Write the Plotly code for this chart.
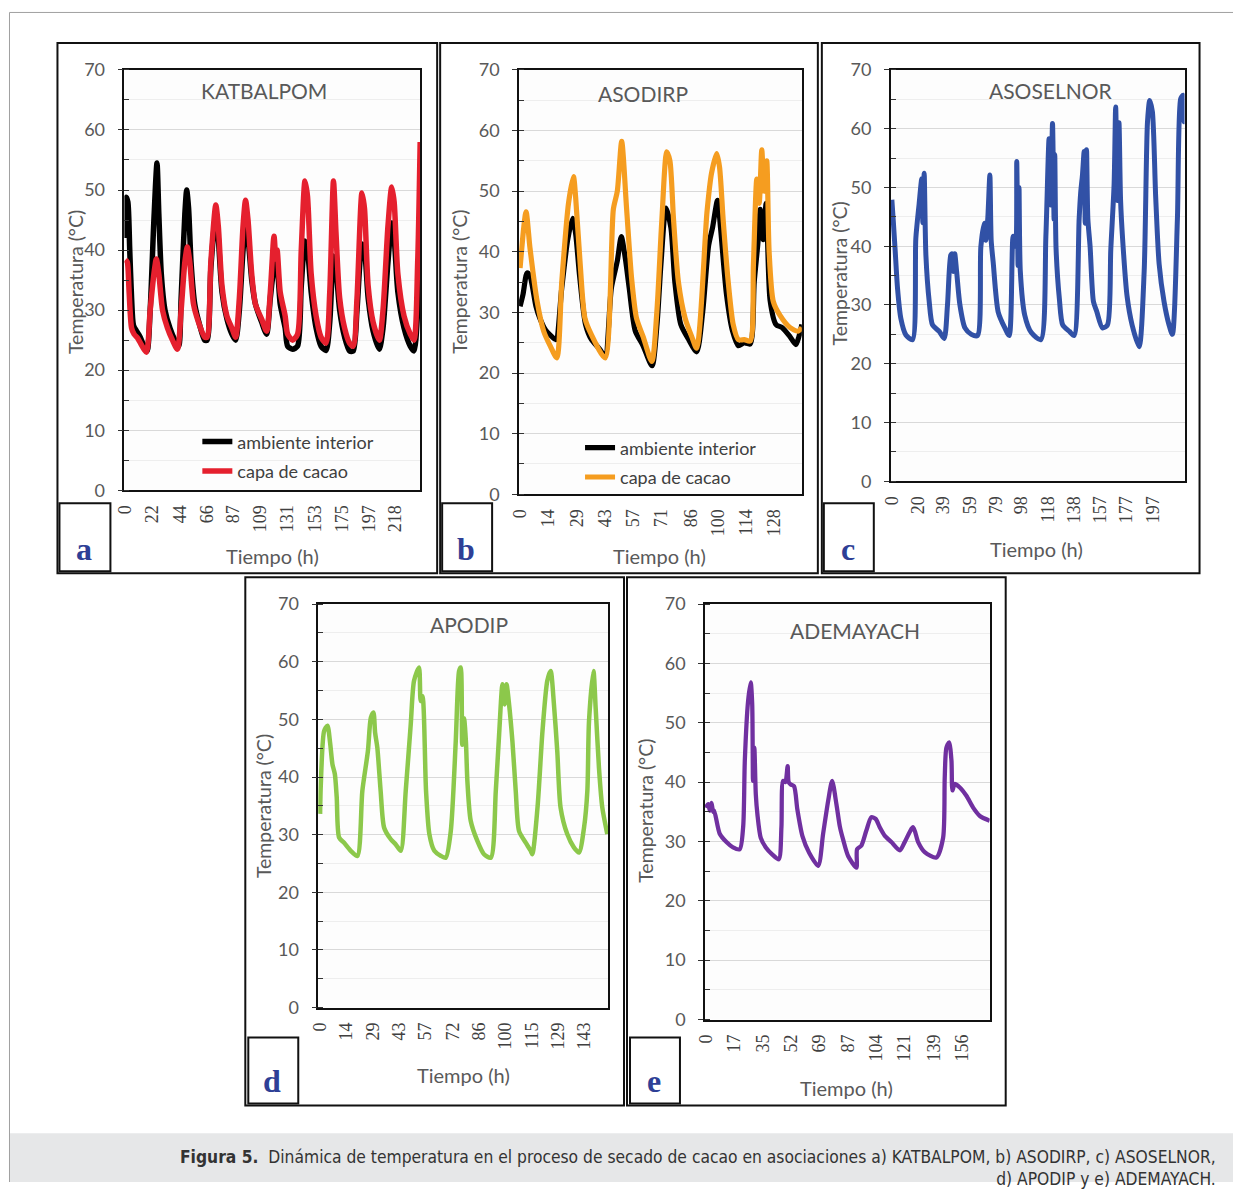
import plotly.graph_objects as go

# ---------------- data ----------------
# a) KATBALPOM
a_t_ambiente = [0, 0.7, 2, 3.5, 5, 6.5, 9, 12, 15, 17.5,
                20, 23, 25.5, 27, 29, 32, 36, 40, 43,
                45, 48, 49.5, 51, 53, 56, 60, 64, 66,
                69, 73, 75, 78, 82, 86, 89,
                92, 95, 97, 99, 102, 105, 110, 114,
                117, 120, 122, 125, 129, 131, 135, 139,
                142, 145, 147, 150, 154, 158, 162,
                165, 168, 170, 173, 177, 181, 184,
                187, 191, 193, 196, 200, 205,
                208, 212, 215, 217, 220, 225, 230, 233,
                236, 238]
a_ambiente = [42, 48.8, 48, 40, 32, 27.5, 26.5, 25.5, 24, 23.2,
              30, 45, 54.5, 46, 36, 30, 27, 25, 24,
              32, 46, 50, 47, 38, 31, 27.5, 25, 25,
              37, 46, 42, 33, 28.5, 26, 25,
              30, 40, 44, 42, 35, 31, 28, 26,
              32, 37, 38, 31, 27, 24, 23.5, 24,
              34, 41.5, 40, 33, 27, 24, 23.3,
              28, 39, 37, 30, 25.5, 23.2, 23.2,
              30, 41, 40, 32, 26.5, 23.5,
              27, 38, 44.5, 42, 33, 27, 24, 23.2,
              30, 42]
a_t_cacao = [0, 1.5, 3, 5, 7, 10, 13, 17,
             20, 23, 25, 27, 30, 34, 38, 42,
             45, 48, 50, 52, 55, 59, 64, 66,
             69, 73, 75, 78, 82, 86, 89,
             92, 95, 97, 99, 102, 105, 110, 114,
             117, 120, 121.5, 122.5, 125, 129, 131, 135, 139,
             142, 145, 147, 150, 154, 158, 162,
             165, 168, 170, 173, 177, 181, 184,
             187, 191, 193, 196, 200, 205,
             208, 212, 215, 217, 220, 225, 230, 233,
             236, 238]
a_cacao = [38.4, 38, 33, 27, 26, 25.3, 24.2, 23,
           30, 36, 38.5, 36, 30, 27, 25, 23.5,
           30, 38, 40.5, 38, 31, 28, 25.5, 25.5,
           38, 47.5, 44, 34, 29, 27, 25.5,
           32, 44, 48.3, 45, 36, 31, 28.5, 26.5,
           33, 42.3, 38.5, 40, 33, 29, 26, 25, 26,
           40, 51.5, 49, 36, 29, 25.5, 24.5,
           33, 51.5, 43, 32, 27, 24.5, 24,
           32, 49.5, 47, 34, 28, 25,
           30, 44, 50.5, 48, 36, 29, 26, 25,
           38, 58]
a_ticks = [0, 22, 44, 66, 87, 109, 131, 153, 175, 197, 218]

# b) ASODIRP
b_t_ambiente = [0, 1.5, 3.5, 5, 8, 10, 13, 16, 18,
                21, 24, 26.5, 28, 30, 33, 36, 40, 42.8,
                46, 49, 51, 53, 55, 58, 62, 66.5,
                69, 71, 73.5, 76, 78, 81, 85, 89,
                92, 95, 97, 99.5, 101, 104, 107, 110, 113, 116,
                118, 120, 121, 122.5, 124, 126, 129, 132, 136, 139, 140.5, 142]
b_ambiente = [31, 33, 36.5, 36, 31, 29, 27, 26, 25.5,
              34, 42, 45.5, 43, 36, 28, 25.5, 24, 22.8,
              34, 38.5, 42.5, 39, 34, 27, 24.5, 21.2,
              28, 38, 47.2, 44, 35, 28, 25.5, 23.5,
              30, 41, 44, 48.5, 44, 33, 27, 24.5, 25, 24.8,
              35, 42, 47, 42, 48, 32, 28, 27.5, 26, 24.7, 26, 28]
b_t_cacao = [0, 3, 5, 8.6, 11.9, 15.3, 18.5,
             21, 24.4, 26.9, 28, 30.2, 32.7, 36.1, 42.8,
             47, 49, 51.2, 53.7, 56.2, 58.7, 62, 66.4,
             68.9, 71.4, 73.9, 75.5, 77.3, 79.8, 83.2, 86.5, 89,
             94.2, 96.5, 99.1, 100.5, 102.4, 104.9, 107.4, 110, 113, 116,
             117.6, 119.3, 120.5, 121.8, 123, 124.3, 125.5, 127.6, 131, 136, 140, 142]
b_cacao = [37.3, 46.6, 40.6, 31.8, 26.9, 24.4, 22.5,
           35, 48, 52.4, 49, 38.4, 29, 26.2, 22.5,
           47, 50, 58.2, 47, 35.6, 29, 26, 21.9,
           30, 45, 56.5, 55, 45.5, 35, 29, 26, 24.1,
           46.6, 53, 56.2, 54, 45, 35, 28, 25.5, 25.5, 25.3,
           38, 52, 48, 56.8, 50, 55, 40, 31.8, 29.5, 27.5, 26.9, 27.5]
b_ticks = [0, 14, 29, 43, 57, 71, 86, 100, 114, 128]

# c) ASOSELNOR
c_t = [0, 1, 2.5, 4.3, 6.8, 10.6, 15.6,
       18.1, 20.6, 22.6, 23.4, 24.4, 25.7, 28.2, 30.7, 35.8, 39.5,
       42, 44.5, 45.5, 46.5, 47.5, 48.9, 51.4, 55.2, 60, 64.7,
       67.2, 69.7, 71, 72.5, 74, 75, 76.5, 80.3, 85.3, 88.6,
       91.6, 93.6, 94.3, 95.3, 96, 97, 100.3, 105.3, 112.5,
       116.3, 118.7, 120, 121.3, 122.5, 123, 124, 126.5, 129, 134.1, 137.6,
       141.4, 142.6, 143.9, 145.2, 146, 147, 148, 149.7, 152.2, 154.7, 159, 162.8,
       165.3, 167.8, 169, 170.3, 171.5, 172.7, 174.3, 177.6, 181.4, 186.7,
       190.5, 193, 194.7, 196.7, 199.2, 201.8, 205.5, 209.3, 211.8,
       215.6, 218.1, 219.9, 220.6, 221]
c_temp = [47.9, 44.6, 39.3, 32.8, 27.7, 24.9, 24.1,
          41.3, 47.2, 51.5, 44, 52.4, 38.5, 30.6, 26.6, 25.5, 24.3,
          30, 38.5, 38.7, 35.7, 38.7, 35.7, 30, 26.1, 25, 24.8,
          39.9, 43.9, 41, 45, 52.1, 41, 37.3, 28.8, 26.1, 24.8,
          41.7, 40, 54.4, 36.7, 50, 35.7, 28.3, 25.3, 24.1,
          41.7, 58.3, 47, 60.9, 44.6, 55.6, 39.5, 31, 26.6, 25.5, 24.8,
          44.6, 49.2, 52.1, 56.1, 43.9, 56.4, 44.6, 39.9, 30.6, 28.9, 26.1, 26.6,
          39.4, 50.5, 63.7, 47.8, 61, 47.8, 41, 31.5, 26.6, 22.9,
          35.7, 61.1, 64.8, 62.9, 48.4, 37, 30.6, 26.6, 25,
          44.6, 65.1, 65.7, 61.2, 62]
c_ticks = [0, 20, 39, 59, 79, 98, 118, 138, 157, 177, 197]

# d) APODIP
d_t = [0, 0.4, 2.2, 4, 5.4, 6.7, 8, 9, 10.3, 13, 16.6, 20.2,
       22.9, 25.9, 27.5, 28.9, 29.8, 31, 32.8, 34.7, 38.3, 41, 43.7,
       46.4, 49.1, 50.9, 53.6, 54.5, 55.5, 57.4, 59.2, 61.9, 65.5, 68.1,
       70.8, 73.5, 75.3, 76.2, 77, 78, 79, 79.8, 81.6, 85.2, 88.8, 92.5,
       95.2, 97, 98.8, 100, 101, 102.4, 104.2, 106, 107.8, 111.4, 114.1, 115,
       117.8, 120.5, 123.1, 124.9, 126.7, 128.5, 130.3, 133.9, 137.5, 140.3,
       143, 144.8, 145.7, 148.1, 149.3, 151.1, 152.9, 155.6]
d_temp = [33.6, 38.8, 48, 48.9, 46, 42.2, 40.5, 36.5, 29.5, 28.6, 27.2, 26.3,
          37.6, 44.5, 50.3, 51.2, 47.7, 45.1, 37.6, 31.2, 29.2, 28.3, 27.2,
          37.6, 49.1, 56.7, 59, 53.2, 54, 37.6, 30.1, 27.2, 26.3, 26,
          30.6, 46.2, 58.4, 59, 45.6, 50.2, 46.2, 39.3, 32.4, 28.9, 26.6, 26,
          37.6, 47.4, 56.1, 52.6, 56.1, 52.6, 46.2, 37.6, 30.6, 28.6, 27.2, 26.6,
          34.7, 48, 56.7, 58.4, 52.6, 44.5, 34.7, 30.1, 27.8, 26.9,
          31.2, 37.6, 49.7, 58.4, 52, 41.6, 34.7, 30.1]
d_ticks = [0, 14, 29, 43, 57, 72, 86, 100, 115, 129, 143]

# e) ADEMAYACH
e_t = [0, 1.5, 2.5, 3.5, 4.5, 5.1, 8.5, 12.6, 16.6, 20.7,
       22.8, 23.8, 25.8, 27.4, 28.3, 28.8, 29.6, 30.5, 31.5, 33.5, 36.6, 40.6, 44.5,
       46.1, 47.1, 48.5, 49.9, 50.5, 51.8, 53.8, 55.8, 58.9, 63, 68.5,
       71.5, 74.6, 77, 79.6, 81.7, 83.7, 86.8, 91.8,
       92.2, 94.8, 97.8, 100.9, 103.5, 106, 109, 113.1, 118.2, 121.2, 126.3, 129.4, 133.4, 140.5,
       144.6, 145.6, 146.6, 148.3, 149.7, 150.3, 151.7, 154.8, 158.8, 162.9, 167, 173]
e_temp = [35.7, 36.3, 35.2, 36.5, 35, 35.2, 31.3, 29.9, 29, 28.7,
          32.5, 43.6, 53.7, 56.8, 53.1, 40.2, 45.8, 37.9, 34.5, 30.6, 29, 27.8, 27,
          32.4, 40.2, 40, 42.7, 40, 39.6, 39.3, 35.4, 30.9, 28.1, 25.9,
          31.3, 36.9, 40.2, 36.3, 32.5, 30.3, 27.5, 25.6,
          28.7, 29.3, 31.8, 34.1, 33.8, 32.4, 31, 29.9, 28.5, 29.9, 32.4, 29.9, 28.2, 27.3,
          30.6, 40.8, 45.8, 46.7, 43.6, 38.6, 39.7, 39.1, 37.7, 35.7, 34.3, 33.5]
e_ticks = [0, 17, 35, 52, 69, 87, 104, 121, 139, 156]

titles = ["KATBALPOM", "ASODIRP", "ASOSELNOR", "APODIP", "ADEMAYACH"]
letters = ["a", "b", "c", "d", "e"]
y_ticks = [0, 10, 20, 30, 40, 50, 60, 70]

caption = ("<b>Figura 5.</b>  Dinámica de temperatura en el proceso de secado de cacao en "
           "asociaciones a) KATBALPOM, b) ASODIRP, c) ASOSELNOR,<br>d) APODIP y e) ADEMAYACH.")

# ---------------- layout geometry ----------------
# Positions below are target pixels in the photographed window; the page
# places the figure with a small offset and scale, which fx/fy undo.
W, H = 1233, 1192
OFF_X, SC_X = 8.5, 0.9935
OFF_Y, SC_Y = 10.0, 0.983

def fx(x):
    return ((x - OFF_X) / SC_X) / W

def fy(y):
    return 1 - ((y - OFF_Y) / SC_Y) / H

SANS = "Lato, 'Open Sans', sans-serif"
SERIF = "'Liberation Serif', 'DejaVu Serif', serif"
GREY = "#595959"

panels = [
    dict(plot=(124, 420, 68, 489), xr=[-0.8, 238], ticks=a_ticks,
         box=(57, 41, 437, 572), lbox=(59, 502, 110, 570),
         title=(264, 89), ytit=(75, 280), xtit=(272, 555)),
    dict(plot=(519, 802, 68, 493), xr=[-0.5, 142], ticks=b_ticks,
         box=(440, 41, 818, 572), lbox=(442, 502, 492, 570),
         title=(643, 92), ytit=(459, 280), xtit=(660, 555)),
    dict(plot=(891, 1185, 68, 480), xr=[-0.8, 221], ticks=c_ticks,
         box=(822, 41, 1200, 572), lbox=(824, 502, 874, 570),
         title=(1051, 89), ytit=(840, 272), xtit=(1037, 548)),
    dict(plot=(318, 608, 603, 1007), xr=[-1, 156], ticks=d_ticks,
         box=(245, 576, 624, 1105), lbox=(248, 1037, 298, 1103),
         title=(469, 623), ytit=(264, 805), xtit=(463, 1075)),
    dict(plot=(705, 990, 603, 1019), xr=[-0.5, 173], ticks=e_ticks,
         box=(627, 576, 1006, 1105), lbox=(630, 1037, 680, 1103),
         title=(855, 629), ytit=(646, 810), xtit=(847, 1088)),
]

fig = go.Figure()

def add(i, t, v, color, width, name, legend=None):
    sfx = "" if i == 0 else str(i + 1)
    fig.add_trace(go.Scatter(
        x=t, y=v, mode="lines", name=name,
        line=dict(color=color, width=width, shape="spline", smoothing=0.7),
        xaxis="x" + sfx, yaxis="y" + sfx,
        showlegend=legend is not None,
        legend=legend if legend else "legend",
        legendgroup=f"{name}{i}",
    ))

add(0, a_t_ambiente, a_ambiente, "#000000", 5.5, "ambiente interior", "legend")
add(0, a_t_cacao, a_cacao, "#e5202e", 5.5, "capa de cacao", "legend")
add(1, b_t_ambiente, b_ambiente, "#000000", 5.2, "ambiente interior", "legend2")
add(1, b_t_cacao, b_cacao, "#f59d20", 5.2, "capa de cacao", "legend2")
add(2, c_t, c_temp, "#3151a6", 5, "ASOSELNOR")
add(3, d_t, d_temp, "#8cc84b", 4.5, "APODIP")
add(4, e_t, e_temp, "#7030a0", 4.3, "ADEMAYACH")

layout = dict(
    width=W, height=H, margin=dict(l=0, r=0, t=0, b=0),
    paper_bgcolor="#ffffff", plot_bgcolor="#fdfdfd",
    font=dict(family=SANS, color=GREY),
    shapes=[], annotations=[],
)

for i, p in enumerate(panels):
    sfx = "" if i == 0 else str(i + 1)
    x0, x1, y0, y1 = p["plot"]
    layout["xaxis" + sfx] = dict(
        domain=[fx(x0), fx(x1)], range=p["xr"], anchor="y" + sfx,
        tickvals=p["ticks"], ticktext=[str(v) for v in p["ticks"]],
        tickangle=-90, ticks="", showgrid=False, zeroline=False,
        showline=True, mirror=True, linecolor="#111111", linewidth=1.5,
        tickfont=dict(family=SERIF, size=18, color="#404040"),
        ticklabelstandoff=6,
    )
    layout["yaxis" + sfx] = dict(
        domain=[fy(y1), fy(y0)], range=[0, 70], anchor="x" + sfx,
        tickvals=y_ticks, showgrid=True, gridcolor="#d9d9d9", gridwidth=1,
        zeroline=False, showline=True, mirror=True, linecolor="#111111", linewidth=1.5,
        ticks="outside", ticklen=5, tickcolor="#333333", tickwidth=1,
        minor=dict(dtick=5, tick0=0, ticks="inside", ticklen=5, tickcolor="#333333",
                   showgrid=True, gridcolor="#eeeeee", gridwidth=1),
        tickfont=dict(family=SANS, size=18, color=GREY),
        ticklabelstandoff=9,
    )
    bx0, by0, bx1, by1 = p["box"]
    layout["shapes"].append(dict(type="rect", xref="paper", yref="paper",
                                 x0=fx(bx0), x1=fx(bx1), y0=fy(by1), y1=fy(by0),
                                 line=dict(color="#111111", width=2)))
    lx0, ly0, lx1, ly1 = p["lbox"]
    layout["shapes"].append(dict(type="rect", xref="paper", yref="paper",
                                 x0=fx(lx0), x1=fx(lx1), y0=fy(ly1), y1=fy(ly0),
                                 fillcolor="#ffffff",
                                 line=dict(color="#111111", width=2)))
    layout["annotations"].append(dict(
        text=f"<b>{letters[i]}</b>", x=fx((lx0 + lx1) / 2 - 1), y=fy(ly1 - 22),
        xref="paper", yref="paper", showarrow=False, xanchor="center", yanchor="middle",
        font=dict(family=SERIF, size=32, color="#2e3f96")))
    tx, ty = p["title"]
    layout["annotations"].append(dict(
        text=titles[i], x=fx(tx), y=fy(ty), xref="paper", yref="paper",
        showarrow=False, xanchor="center", yanchor="middle",
        font=dict(family=SANS, size=21, color=GREY)))
    yx, yy = p["ytit"]
    layout["annotations"].append(dict(
        text="Temperatura (°C)", x=fx(yx), y=fy(yy), xref="paper", yref="paper",
        showarrow=False, textangle=-90, xanchor="center", yanchor="middle",
        font=dict(family=SANS, size=19.5, color=GREY)))
    xx, xy = p["xtit"]
    layout["annotations"].append(dict(
        text="Tiempo (h)", x=fx(xx), y=fy(xy), xref="paper", yref="paper",
        showarrow=False, xanchor="center", yanchor="middle",
        font=dict(family=SANS, size=20, color=GREY)))

# page frame and caption band
left_edge = max(fx(8), 0.0004)
top_edge = min(fy(10), 1 - 0.0004)
layout["shapes"] += [
    dict(type="rect", xref="paper", yref="paper", x0=left_edge, x1=1, y0=0, y1=fy(1133),
         fillcolor="#e6e7e8", line=dict(width=0), layer="below"),
    dict(type="line", xref="paper", yref="paper", x0=left_edge, x1=1,
         y0=top_edge, y1=top_edge, line=dict(color="#a0a0a0", width=1)),
    dict(type="line", xref="paper", yref="paper", x0=left_edge, x1=left_edge,
         y0=0, y1=top_edge, line=dict(color="#a0a0a0", width=1)),
]
layout["annotations"].append(dict(
    text=caption, x=fx(1218), y=fy(1168), xref="paper", yref="paper",
    showarrow=False, xanchor="right", yanchor="middle", align="right",
    font=dict(family="'Liberation Sans Narrow', 'DejaVu Sans Condensed', sans-serif",
              size=17.3, color="#333333")))

legend_common = dict(bgcolor="rgba(0,0,0,0)", borderwidth=0, tracegroupgap=3,
                     font=dict(family=SANS, size=18, color="#404040"),
                     xanchor="left", yanchor="top", xref="paper", yref="paper")
layout["legend"] = dict(legend_common, x=fx(197), y=fy(422))
layout["legend2"] = dict(legend_common, x=fx(580), y=fy(428))

fig.update_layout(**layout)
fig.write_html("out.html")
